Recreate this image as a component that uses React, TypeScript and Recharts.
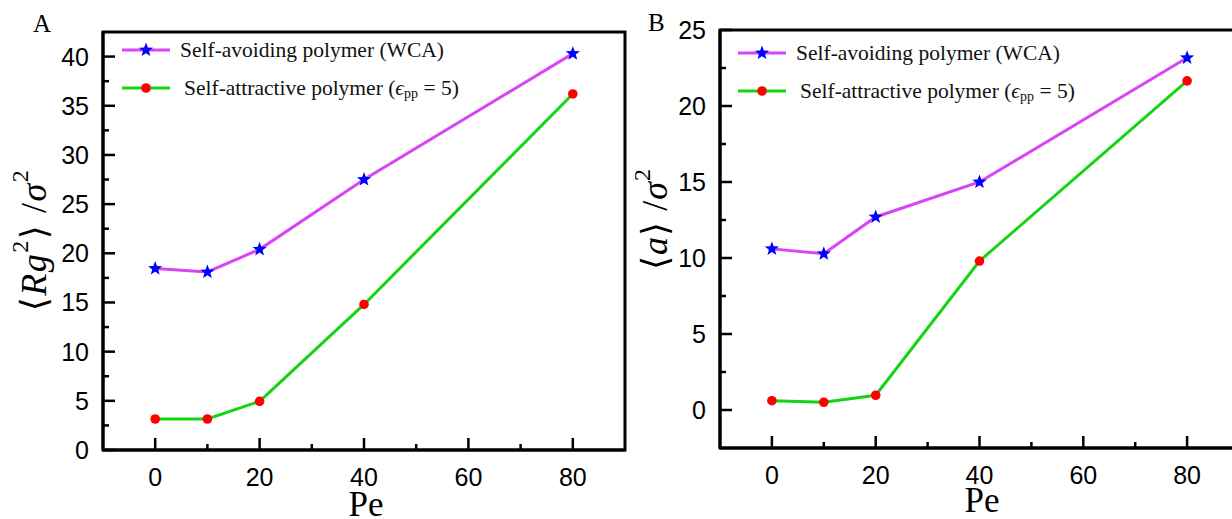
import React from "react";
import { LineChart, Line, XAxis, YAxis, ReferenceArea, Legend } from "recharts";

// Pe values shared by both panels
const pe = [0, 10, 20, 40, 80];

// panel A: <Rg^2>/sigma^2
const rgAvoiding = [18.45, 18.1, 20.4, 27.5, 40.3];
const rgAttractive = [3.15, 3.15, 4.95, 14.8, 36.2];

// panel B: <a>/sigma^2
const aAvoiding = [10.6, 10.28, 12.7, 15.0, 23.17];
const aAttractive = [0.61, 0.51, 0.97, 9.8, 21.65];

const xTicks = [0, 10, 20, 30, 40, 50, 60, 70, 80];
const xMajor = [0, 20, 40, 60, 80];
const rgTicks = [0, 2.5, 5, 7.5, 10, 12.5, 15, 17.5, 20, 22.5, 25, 27.5, 30, 32.5, 35, 37.5, 40];
const rgMajor = [0, 5, 10, 15, 20, 25, 30, 35, 40];
const aTicks = [0, 2.5, 5, 7.5, 10, 12.5, 15, 17.5, 20, 22.5, 25];
const aMajor = [0, 5, 10, 15, 20, 25];

const seriesNames = ["Self-avoiding polymer (WCA)", "Self-attractive polymer (\u03f5pp = 5)"];

const SERIF = "Liberation Serif, DejaVu Serif, serif";
const SANS = "Liberation Sans, Arial, sans-serif";
const MAGENTA = "#d745f5";
const GREEN = "#14d414";

const rgData = pe.map((p, i) => ({ pe: p, avoid: rgAvoiding[i], attract: rgAttractive[i] }));
const aData = pe.map((p, i) => ({ pe: p, avoid: aAvoiding[i], attract: aAttractive[i] }));

function starPath(cx: number, cy: number, r: number) {
  const pts: string[] = [];
  for (let k = 0; k < 10; k++) {
    const rr = k % 2 === 0 ? r : r * 0.42;
    const ang = -Math.PI / 2 + (k * Math.PI) / 5;
    pts.push(`${cx + rr * Math.cos(ang)},${cy + rr * Math.sin(ang)}`);
  }
  return "M" + pts.join("L") + "Z";
}

const Star = ({ cx, cy }: { cx: number; cy: number }) => (
  <path d={starPath(cx, cy, 7.5)} fill="#0000ff" />
);

const renderStar = (p: any) => <Star key={`s${p.index}`} cx={p.cx} cy={p.cy} />;
const renderDot = (p: any) => <circle key={`d${p.index}`} cx={p.cx} cy={p.cy} r={4.8} fill="#ff0000" />;

const XTick = (props: any) => {
  const { x, y, payload } = props;
  const major = xMajor.includes(payload.value);
  return (
    <g>
      <line x1={x} x2={x} y1={y} y2={y - (major ? 12 : 6)} stroke="#000" strokeWidth={2.5} />
      {major && (
        <text x={x} y={y + 27} textAnchor="middle" dominantBaseline="central" fontFamily={SANS} fontSize={25} fill="#000">
          {payload.value}
        </text>
      )}
    </g>
  );
};

const makeYTick = (majors: number[]) => (props: any) => {
  const { x, y, payload } = props;
  const major = majors.includes(payload.value);
  return (
    <g>
      <line x1={x} x2={x + (major ? 12 : 6)} y1={y} y2={y} stroke="#000" strokeWidth={2.5} />
      {major && (
        <text x={x - 14} y={y} textAnchor="end" dominantBaseline="central" fontFamily={SANS} fontSize={25} fill="#000">
          {payload.value}
        </text>
      )}
    </g>
  );
};

const legendName = (key: string) =>
  key === "avoid" ? (
    seriesNames[0]
  ) : (
    <>
      Self-attractive polymer (<tspan fontStyle="italic">{"\u03f5"}</tspan>
      <tspan fontSize={14} dy={5}>pp</tspan>
      <tspan dy={-5}> = 5)</tspan>
    </>
  );

const renderLegend = (props: any) => {
  const payload = [...(props.payload || [])].sort(
    (a: any, b: any) => seriesNames.indexOf(a.value) - seriesNames.indexOf(b.value)
  );
  return (
    <svg width={420} height={70}>
      {payload.map((entry: any, i: number) => {
        const cy = 15 + i * 38;
        return (
          <g key={entry.dataKey}>
            <line x1={0} x2={48} y1={cy} y2={cy} stroke={entry.color} strokeWidth={3} />
            {entry.dataKey === "avoid" ? <Star cx={24} cy={cy} /> : <circle cx={24} cy={cy} r={4.8} fill="#ff0000" />}
            <text x={58 + i * 4} y={cy} dominantBaseline="central" fontFamily={SERIF} fontSize={21.5} fill="#111">
              {legendName(entry.dataKey)}
            </text>
          </g>
        );
      })}
    </svg>
  );
};

const peLabel = (cx: number, baseline: number) => () => (
  <text x={cx} y={baseline} textAnchor="middle" fontFamily={SERIF} fontSize={35} fill="#000">
    Pe
  </text>
);

const rgLabel = () => (
  <text
    x={34}
    y={240}
    transform="rotate(-90, 34, 240)"
    textAnchor="middle"
    dominantBaseline="central"
    fontFamily={SERIF}
    fontSize={36}
    letterSpacing={1.5}
    fill="#000"
  >
    {"\u27e8"}
    <tspan fontStyle="italic">Rg</tspan>
    <tspan fontSize={24} dy={-14}>2</tspan>
    <tspan dy={14}>{"\u27e9 /"}</tspan>
    <tspan fontStyle="italic">{"\u03c3"}</tspan>
    <tspan fontSize={24} dy={-14}>2</tspan>
  </text>
);

const aLabel = () => (
  <text
    x={37}
    y={219}
    transform="rotate(-90, 37, 219)"
    textAnchor="middle"
    dominantBaseline="central"
    fontFamily={SERIF}
    fontSize={36}
    letterSpacing={1}
    fill="#000"
  >
    {"\u27e8"}
    <tspan fontStyle="italic">a</tspan>
    <tspan>{"\u27e9 /"}</tspan>
    <tspan fontStyle="italic">{"\u03c3"}</tspan>
    <tspan fontSize={24} dy={-13}>2</tspan>
  </text>
);

type PanelProps = {
  data: any[];
  width: number;
  margin: { top: number; right: number; bottom: number; left: number };
  xHeight: number;
  yDomain: [number, number];
  yTicks: number[];
  yMajor: number[];
  yLabel: () => React.ReactElement;
  peAt: [number, number];
  legendPos: { top: number; left: number };
};

function Panel(p: PanelProps) {
  return (
    <LineChart width={p.width} height={519} data={p.data} margin={p.margin}>
      <ReferenceArea x1={-10} x2={90} y1={p.yDomain[0]} y2={p.yDomain[1]} fill="none" stroke="#000" strokeWidth={3} />
      <XAxis
        dataKey="pe"
        type="number"
        domain={[-10, 90]}
        ticks={xTicks}
        interval={0}
        height={p.xHeight}
        tickSize={0}
        tickMargin={0}
        tickLine={false}
        axisLine={{ stroke: "#000", strokeWidth: 3 }}
        tick={XTick}
        label={peLabel(p.peAt[0], p.peAt[1])}
      />
      <YAxis
        type="number"
        domain={p.yDomain}
        ticks={p.yTicks}
        interval={0}
        width={60}
        tickSize={0}
        tickMargin={0}
        tickLine={false}
        axisLine={{ stroke: "#000", strokeWidth: 3 }}
        tick={makeYTick(p.yMajor)}
        label={p.yLabel}
      />
      <Legend
        layout="vertical"
        align="center"
        verticalAlign="middle"
        content={renderLegend}
        wrapperStyle={{ top: p.legendPos.top, left: p.legendPos.left, width: 420, height: 70 }}
      />
      <Line
        dataKey="avoid"
        name={seriesNames[0]}
        stroke={MAGENTA}
        strokeWidth={3}
        dot={renderStar}
        isAnimationActive={false}
      />
      <Line
        dataKey="attract"
        name={seriesNames[1]}
        stroke={GREEN}
        strokeWidth={3}
        dot={renderDot}
        isAnimationActive={false}
      />
    </LineChart>
  );
}

export default function App() {
  return (
    <div
      style={{
        position: "fixed",
        left: 0,
        top: 0,
        width: 1232,
        height: 519,
        overflow: "hidden",
        background: "#fff",
        fontFamily: SERIF,
      }}
    >
      <div style={{ position: "absolute", left: 0, top: 0 }}>
        <Panel
          data={rgData}
          width={630}
          margin={{ top: 32, right: 5, bottom: 0, left: 43 }}
          xHeight={69}
          yDomain={[0, 42.5]}
          yTicks={rgTicks}
          yMajor={rgMajor}
          yLabel={rgLabel}
          peAt={[366, 516]}
          legendPos={{ top: 35, left: 122 }}
        />
      </div>
      <div style={{ position: "absolute", left: 618, top: 0 }}>
        <Panel
          data={aData}
          width={642}
          margin={{ top: 30, right: 21, bottom: 0, left: 42 }}
          xHeight={71}
          yDomain={[-2.5, 25]}
          yTicks={aTicks}
          yMajor={aMajor}
          yLabel={aLabel}
          peAt={[364, 512]}
          legendPos={{ top: 38, left: 120 }}
        />
      </div>
      <span style={{ position: "absolute", left: 33, top: 11, fontSize: 25, lineHeight: "25px" }}>A</span>
      <span style={{ position: "absolute", left: 648, top: 10, fontSize: 25, lineHeight: "25px" }}>B</span>
    </div>
  );
}
